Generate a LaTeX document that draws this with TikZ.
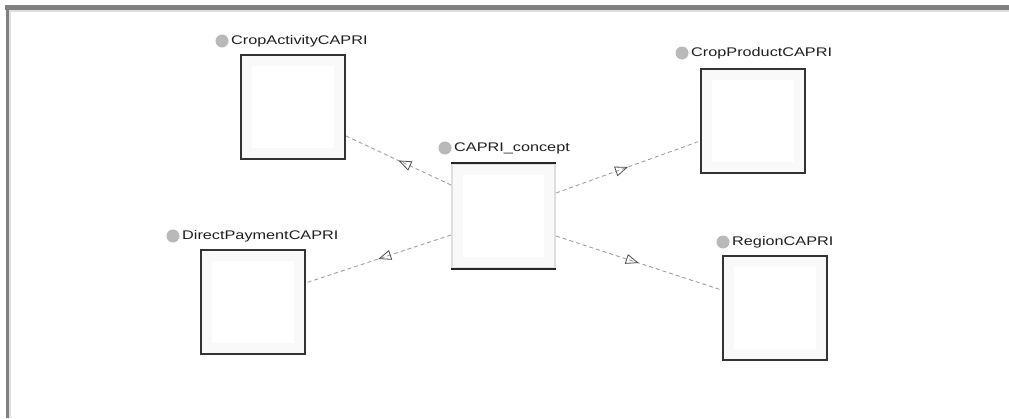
\documentclass[tikz,border=0pt]{standalone}
\usepackage{fontspec}
\setmainfont{Liberation Sans}
\usetikzlibrary{arrows.meta,decorations.markings}
\definecolor{framegray}{HTML}{808080}
\definecolor{boxedge}{HTML}{333333}
\definecolor{edgegray}{HTML}{A0A0A0}
\tikzset{
  classbox/.style={draw=boxedge, line width=2pt, fill=gray!5, minimum width=104pt, minimum height=104pt, inner sep=0pt},
  conceptbox/.style={draw=gray!25, line width=2pt, fill=gray!5, minimum width=103pt, minimum height=104pt, inner sep=0pt},
  dot/.style={circle, fill=gray!55, minimum size=13pt, inner sep=0pt},
  lbl/.style={anchor=west, inner sep=0pt, font=\fontsize{12.5}{14}\selectfont, text=black!88},
  rel/.style={draw=edgegray, dashed, dash pattern=on 4pt off 3pt, line width=0.9pt,
    postaction={decorate}, decoration={markings, mark=at position 0.5 with {\arrow[draw=black!70, fill=white, line width=0.8pt]{Triangle[open, length=13pt, width=10pt]}}}},
}
\newcommand{\wlab}[1]{\scalebox{1.3}[1]{#1}}
\begin{document}
\begin{tikzpicture}[x=1pt,y=-1pt]
\useasboundingbox (0,0) rectangle (1009,418);
\fill[white] (0,0) rectangle (1009,418);
% frame
\fill[framegray] (5,5) rectangle (1009,10);
\fill[framegray] (6,5) rectangle (9,418);
\fill[gray!25] (9,10) rectangle (1009,11.5);
\fill[gray!25] (9,10) rectangle (10.5,418);

% boxes
\node[classbox] (act) at (293,107) {};
\node[classbox] (prod) at (753,120.5) {};
\node[classbox] (pay) at (252.5,302) {};
\node[classbox] (reg) at (774.5,308) {};
\node[conceptbox] (con) at (503.5,216) {};
\draw[black!85, line width=2pt] (con.north west) -- (con.north east);
\draw[black!85, line width=2pt] (con.south west) -- (con.south east);
% inner light panels
\foreach \n in {act,prod,pay,reg,con}{
  \fill[white] ([xshift=12pt,yshift=-12pt]\n.north west) rectangle ([xshift=-12pt,yshift=12pt]\n.south east);
}

% labels
\node[dot] (actd) at (222,41) {};
\node[lbl] (actl) at (231,41) {\wlab{CropActivityCAPRI}};
\node[dot] (prodd) at (682,53) {};
\node[lbl] (prodl) at (691,53) {\wlab{CropProductCAPRI}};
\node[dot] (payd) at (173,236) {};
\node[lbl] (payl) at (182,236) {\wlab{DirectPaymentCAPRI}};
\node[dot] (regd) at (723,242) {};
\node[lbl] (regl) at (732,242) {\wlab{RegionCAPRI}};
\node[dot] (cond) at (445,148) {};
\node[lbl] (conl) at (454,148) {\wlab{CAPRI\_concept}};

% relations
\draw[rel] ([yshift=31pt]con.west) -- ([yshift=-29pt]act.east);
\draw[rel] ([yshift=23pt]con.east) -- ([yshift=-20.5pt]prod.west);
\draw[rel] ([yshift=-19pt]con.west) -- ([yshift=19pt]pay.east);
\draw[rel] ([yshift=-20pt]con.east) -- ([yshift=18pt]reg.west);
\end{tikzpicture}
\end{document}
